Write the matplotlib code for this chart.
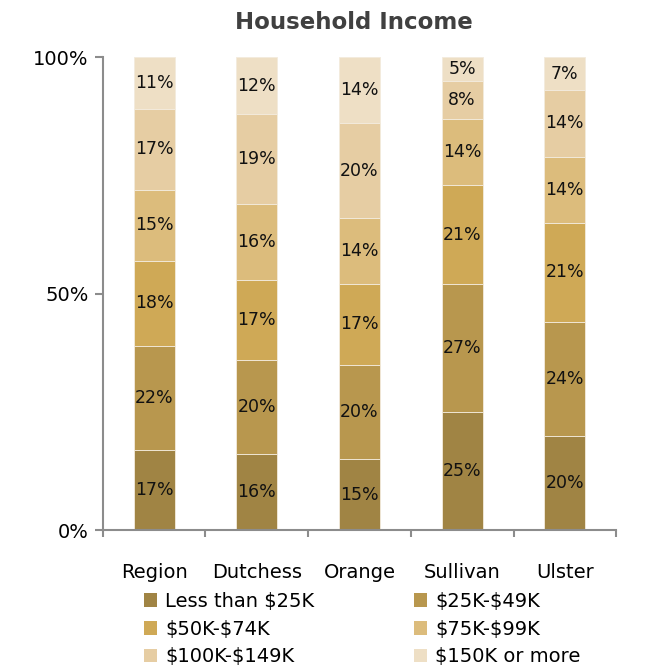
import matplotlib
matplotlib.use("Agg")
import matplotlib.pyplot as plt
from matplotlib.patches import Patch
import numpy as np

plt.rcParams['font.family'] = ['DejaVu Sans']

categories = ["Region", "Dutchess", "Orange", "Sullivan", "Ulster"]
series_names = ["Less than \\$25K", "\\$25K-\\$49K", "\\$50K-\\$74K", "\\$75K-\\$99K",
                "\\$100K-\\$149K", "\\$150K or more"]
less25 = [17, 16, 15, 25, 20]
k25_49 = [22, 20, 20, 27, 24]
k50_74 = [18, 17, 17, 21, 21]
k75_99 = [15, 16, 14, 14, 14]
k100_149 = [17, 19, 20, 8, 14]
k150p = [11, 12, 14, 5, 7]
series = [less25, k25_49, k50_74, k75_99, k100_149, k150p]
colors = ["#A08444", "#B8974E", "#CFA956", "#DCBC7C", "#E6CDA3", "#EEDFC5"]

fig = plt.figure(figsize=(6.5, 6.66), dpi=100)
ax = fig.add_axes([0.158, 0.204, 0.79, 0.710])

x = np.arange(len(categories))
bottom = np.zeros(len(categories))
for vals, col in zip(series, colors):
    vals = np.array(vals, dtype=float)
    ax.bar(x, vals, 0.40, bottom=bottom, color=col, edgecolor="#F3EBDD", linewidth=0.6)
    for xi, b, v in zip(x, bottom, vals):
        ax.text(xi, b + v / 2, f"{int(v)}%", ha="center", va="center",
                fontsize=12.5, color="#111111")
    bottom += vals

ax.set_xlim(-0.5, 4.5)
ax.set_ylim(0, 100)
ax.set_yticks([0, 50, 100])
ax.set_yticklabels(["0%", "50%", "100%"], fontsize=14)
ax.set_xticks(np.arange(-0.5, 5.0, 1.0))
ax.set_xticklabels([])
ax.set_xticks(x, minor=True)
ax.set_xticklabels(categories, minor=True, fontsize=14)
ax.tick_params(axis="x", which="minor", length=0, pad=24)
ax.tick_params(axis="x", which="major", length=5, color="#8C8C8C", width=1.5)
ax.tick_params(axis="y", length=6, color="#8C8C8C", width=1.5, pad=4)
for s in ["top", "right"]:
    ax.spines[s].set_visible(False)
for s in ["left", "bottom"]:
    ax.spines[s].set_color("#8C8C8C")
    ax.spines[s].set_linewidth(1.5)

fig.text(0.545, 0.966, "Household Income", fontsize=16.5, fontweight="bold",
         color="#404040", ha="center", va="center")

handles = [Patch(facecolor=c, edgecolor="none") for c in colors]
order = [0, 2, 4, 1, 3, 5]
leg = fig.legend([handles[i] for i in order], [series_names[i] for i in order],
                 loc="lower center", ncol=2,
                 bbox_to_anchor=(0.557, -0.027), frameon=False, fontsize=14,
                 handlelength=0.7, handleheight=0.7, handletextpad=0.4,
                 columnspacing=5.1, labelspacing=0.45)

fig.savefig("out.png", dpi=100)
